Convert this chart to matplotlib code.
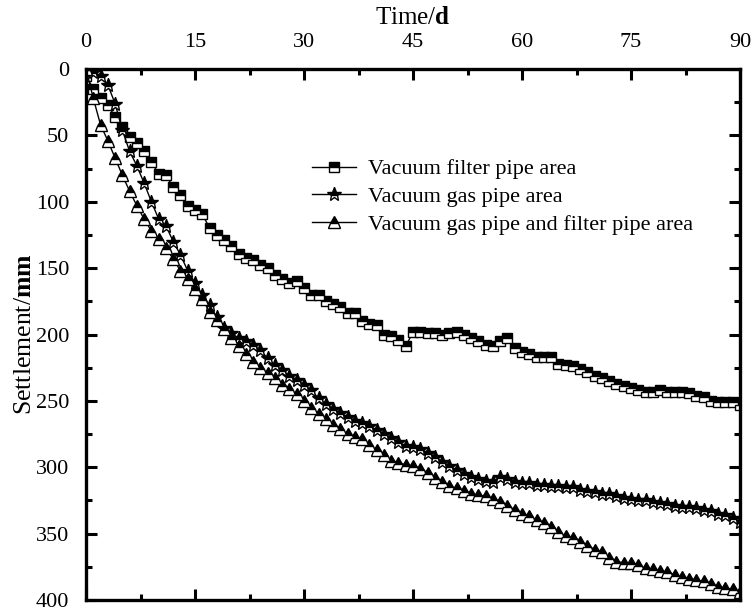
import matplotlib
matplotlib.use("Agg")
import matplotlib.pyplot as plt
from matplotlib.ticker import MultipleLocator

plt.rcParams['font.family'] = ['Liberation Serif', 'DejaVu Serif']
plt.rcParams['mathtext.fontset'] = 'custom'
plt.rcParams['mathtext.rm'] = 'Liberation Serif'
plt.rcParams['mathtext.bf'] = 'Liberation Serif:bold'

days = list(range(0, 91))

filter_pipe = [5, 15, 22, 27, 36, 44, 51, 56, 62, 70, 79, 80, 89, 95, 103, 106, 109, 120, 125, 129,
               133, 139, 142, 144, 148, 150, 155, 158, 161, 160, 165, 170, 170, 175, 177, 179, 184, 184, 190, 192,
               193, 200, 201, 204, 209, 198, 198, 199, 199, 200, 199, 198, 200, 203, 205, 208, 209, 205, 203, 210,
               213, 215, 217, 217, 217, 222, 223, 224, 226, 228, 231, 233, 235, 237, 239, 240, 242, 243, 243, 242,
               243, 243, 243, 244, 246, 247, 250, 251, 251, 251, 253]

gas_pipe = [0, 2, 5, 12, 26, 46, 62, 73, 86, 100, 113, 118, 130, 140, 152, 161, 170, 178, 187, 195,
            199, 203, 205, 208, 212, 218, 223, 227, 231, 234, 238, 242, 248, 252, 256, 259, 262, 265, 267, 269,
            272, 275, 278, 281, 284, 285, 286, 289, 292, 296, 299, 302, 305, 307, 309, 310, 311, 307, 309, 311,
            312, 312, 313, 313, 314, 314, 315, 315, 317, 318, 319, 320, 320, 322, 323, 324, 325, 325, 326, 327,
            328, 329, 330, 330, 331, 332, 333, 335, 336, 338, 341]

gas_filter_pipe = [0, 22, 42, 54, 67, 80, 92, 103, 113, 122, 128, 135, 143, 152, 158, 166, 173, 183, 189, 196,
                   203, 209, 215, 221, 225, 229, 233, 238, 241, 245, 250, 255, 260, 264, 268, 271, 275, 277, 279, 283,
                   287, 291, 295, 297, 298, 299, 301, 304, 308, 311, 314, 316, 318, 320, 321, 322, 324, 326, 329, 332,
                   335, 337, 340, 342, 345, 349, 352, 353, 356, 359, 362, 364, 368, 371, 372, 372, 374, 376, 377, 378,
                   379, 381, 383, 384, 385, 386, 388, 390, 391, 392, 394]

labels = ['Vacuum filter pipe area', 'Vacuum gas pipe area', 'Vacuum gas pipe and filter pipe area']
x_ticks = [0, 15, 30, 45, 60, 75, 90]
y_ticks = [0, 50, 100, 150, 200, 250, 300, 350, 400]

fig = plt.figure(figsize=(7.53, 6.08), dpi=100)
ax = fig.add_axes([86/753, 1-600/608, (740-86)/753, (600-69)/608])

common = dict(color='black', lw=1.0, fillstyle='top', markerfacecolor='black',
              markerfacecoloralt='white', markeredgecolor='black', markeredgewidth=1.0)
ax.plot(days, filter_pipe, marker='s', ms=7, label=labels[0], **common)
ax.plot(days, gas_pipe, marker='*', ms=10, label=labels[1], **common)
ax.plot(days, gas_filter_pipe, marker='^', ms=8.5, label=labels[2], **common)

ax.set_xlim(0, 90)
ax.set_ylim(400, 0)
ax.set_xticks(x_ticks)
ax.set_yticks(y_ticks)
ax.xaxis.set_minor_locator(MultipleLocator(7.5))
ax.yaxis.set_minor_locator(MultipleLocator(25))
ax.xaxis.tick_top()
ax.xaxis.set_label_position('top')
ax.tick_params(which='both', direction='in', top=True, bottom=True, left=True, right=True,
               labeltop=True, labelbottom=False, labelleft=True, labelright=False)
ax.tick_params(which='major', length=8, width=2.2, labelsize=16)
ax.tick_params(axis='x', which='major', pad=12)
ax.tick_params(axis='y', which='major', pad=12)
ax.tick_params(which='minor', length=4, width=2.2)
for s in ax.spines.values():
    s.set_linewidth(2.4)

ax.set_xlabel('Time/$\\mathbf{d}$', fontsize=18, labelpad=7)
ax.set_ylabel('Settlement/$\\mathbf{mm}$', fontsize=18.5, labelpad=0)

ax.legend(loc='upper left', bbox_to_anchor=(0.3456, 0.831), frameon=False, fontsize=16,
          borderpad=0, borderaxespad=0, handlelength=2.0, handletextpad=0.5, labelspacing=0.32)

fig.savefig('out.png', dpi=100)
